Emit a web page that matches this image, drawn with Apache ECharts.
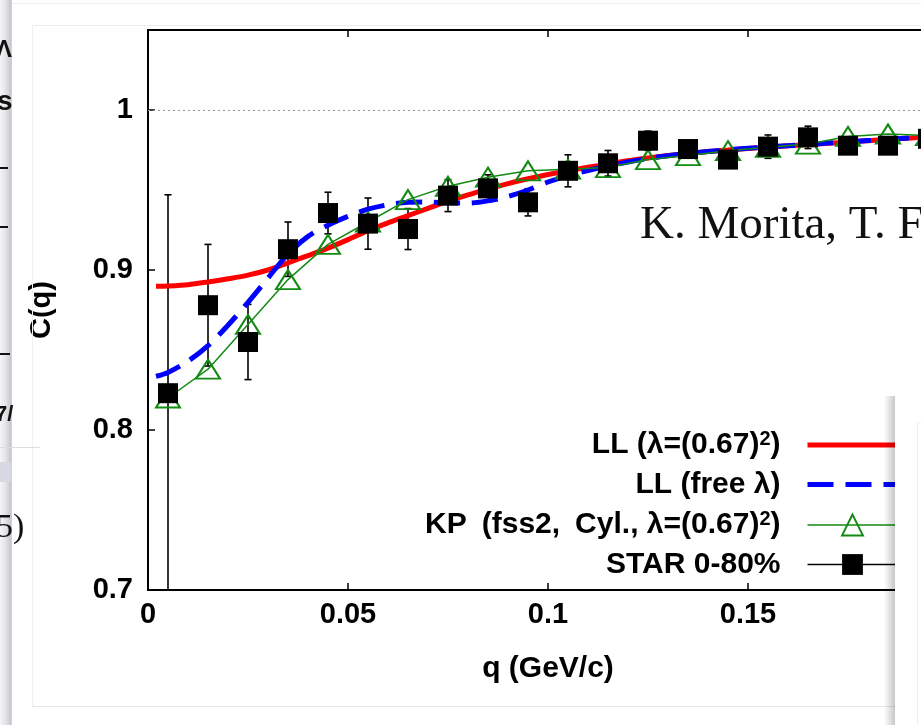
<!DOCTYPE html>
<html><head><meta charset="utf-8">
<script src="https://cdn.jsdelivr.net/npm/echarts@6/dist/echarts.min.js"></script>
<style>html,body{margin:0;padding:0;background:#fff}#c{width:921px;height:725px}</style>
</head><body><div id="c"></div>
<script>
// ---- data ----
const qBins = [0.005,0.015,0.025,0.035,0.045,0.055,0.065,0.075,0.085,0.095,0.105,0.115,0.125,0.135,0.145,0.155,0.165,0.175,0.185,0.195];
const starC = [0.823,0.878,0.855,0.913,0.9356,0.929,0.9256,0.9465,0.951,0.9423,0.962,0.9667,0.9808,0.9756,0.969,0.9771,0.9829,0.9777,0.9777,0.982];
const starErr = [0.124,0.038,0.0235,0.017,0.013,0.016,0.0128,0.010,0.0085,0.0085,0.010,0.008,0.006,0.005,0.005,0.0073,0.007,0.004,0.004,0.004];
const kpC = [0.820,0.838,0.866,0.894,0.916,0.930,0.944,0.9523,0.958,0.962,0.963,0.964,0.969,0.9715,0.9746,0.9767,0.9787,0.9835,0.985,0.984];
const qCurve = [0.002,0.005,0.010,0.015,0.020,0.025,0.030,0.035,0.040,0.045,0.050,0.055,0.060,0.065,0.070,0.075,0.080,0.085,0.090,0.095,0.100,0.105,0.110,0.115,0.120,0.125,0.130,0.135,0.140,0.145,0.150,0.155,0.160,0.165,0.170,0.175,0.180,0.185,0.190,0.195,0.200];
const llC = [0.8898,0.8900,0.8908,0.8925,0.8945,0.8968,0.9000,0.9045,0.9090,0.9137,0.9190,0.9246,0.9295,0.9340,0.9385,0.9430,0.9470,0.9506,0.9540,0.9570,0.9597,0.9620,0.9642,0.9662,0.9683,0.9700,0.9715,0.9728,0.9740,0.9750,0.9760,0.9768,0.9776,0.9784,0.9792,0.9800,0.9808,0.9816,0.9824,0.9831,0.9838];
const llFreeC = [0.8336,0.8360,0.8430,0.8527,0.8655,0.8798,0.8950,0.9100,0.9210,0.9280,0.9335,0.9380,0.9408,0.9423,0.9425,0.9420,0.9418,0.9432,0.9460,0.9500,0.9550,0.9590,0.9622,0.9650,0.9675,0.9697,0.9714,0.9728,0.9740,0.9751,0.9761,0.9769,0.9777,0.9785,0.9793,0.9801,0.9809,0.9817,0.9825,0.9832,0.9839];
const xTicks = {min:0, max:0.2, interval:0.05};
const yTicks = {min:0.7, max:1.05, interval:0.1};
const N_LL = 'LL (λ=(0.67)²)';
const N_FREE = 'LL (free λ)';
const N_KP = 'KP (fss2, Cyl., λ=(0.67)²)';
const N_STAR = 'STAR 0-80%';
const legendRich = {};
legendRich[N_LL] = '{t|LL (λ=(0.67)}{s|2}{t|)}{g| }';
legendRich[N_FREE] = '{t|LL (free λ)}{g| }';
legendRich[N_KP] = '{t|KP}{w| }{t|(fss2,}{w| }{t|Cyl., λ=(0.67)}{s|2}{t|)}{g| }';
legendRich[N_STAR] = '{t|STAR 0-80%}{g| }';

const zip = (a,b) => a.map((v,i)=>[v,b[i]]);
const errData = qBins.map((q,i)=>[q, starC[i]-starErr[i], starC[i]+starErr[i]]);

const GREEN = '#138a13';
const FONT = '"Liberation Sans", Arial, sans-serif';
const SERIF = '"Liberation Serif", "Times New Roman", serif';
const lblStyle = {fontFamily:FONT, fontWeight:'bold', fontSize:29, color:'#000'};

const chart = echarts.init(document.getElementById('c'), null, {renderer:'canvas'});
const option = {
  animation:false,
  backgroundColor:'#fff',
  grid:{left:148, top:30, right:-27, bottom:135, show:true, borderColor:'#000', borderWidth:2,
        containLabel:false, outerBoundsMode:'none'},
  xAxis:[{
    type:'value', min:xTicks.min, max:xTicks.max, interval:xTicks.interval, position:'bottom',
    name:'q (GeV/c)', nameLocation:'middle', nameGap:64,
    nameTextStyle:Object.assign({}, lblStyle, {fontSize:30}),
    axisLine:{show:true, lineStyle:{color:'#000', width:2}},
    axisTick:{show:true, inside:true, length:7, lineStyle:{color:'#000', width:1.5}},
    axisLabel:Object.assign({margin:10, formatter:v=>String(+v.toFixed(3))}, lblStyle),
    splitLine:{show:false}
  },{
    type:'value', min:xTicks.min, max:xTicks.max, interval:xTicks.interval, position:'top',
    axisLine:{show:false},
    axisTick:{show:true, inside:true, length:7, lineStyle:{color:'#000', width:1.5}},
    axisLabel:{show:false}, splitLine:{show:false}
  }],
  yAxis:{
    type:'value', min:yTicks.min, max:yTicks.max, interval:yTicks.interval,
    name:'C(q)', nameLocation:'middle', nameRotate:90, nameGap:92,
    nameTextStyle:Object.assign({}, lblStyle),
    axisLine:{show:true, lineStyle:{color:'#000', width:2}},
    axisTick:{show:true, inside:true, length:7, lineStyle:{color:'#000', width:1.5}},
    axisLabel:Object.assign({margin:15, formatter:v=> v>1.001 ? '' : String(+v.toFixed(2))}, lblStyle),
    splitLine:{show:false}
  },
  legend:{
    orient:'vertical', align:'right', right:16, top:424,
    itemWidth:90, itemHeight:26, itemGap:9.5, selectedMode:false,
    formatter:name=>legendRich[name],
    textStyle:{fontFamily:FONT, fontWeight:'bold', fontSize:30, color:'#000',
      rich:{
        t:{fontFamily:FONT, fontWeight:'bold', fontSize:30, color:'#000', lineHeight:32},
        s:{fontFamily:FONT, fontWeight:'bold', fontSize:20, color:'#000', lineHeight:18, verticalAlign:'top'},
        w:{width:15, fontSize:10},
        g:{width:22, fontSize:10}
      }},
    data:[
      {name:N_LL, itemStyle:{opacity:0}, lineStyle:{color:'#ff0000', width:5, opacity:1}},
      {name:N_FREE, itemStyle:{opacity:0}, lineStyle:{color:'#0000ff', width:5, type:[26,12], opacity:1}},
      {name:N_KP, itemStyle:{color:'rgba(255,255,255,0)', borderColor:GREEN, borderWidth:2, opacity:1}, lineStyle:{color:GREEN, width:1.5, opacity:1}},
      {name:N_STAR, itemStyle:{color:'#000', borderWidth:0, opacity:1}, lineStyle:{color:'#000', width:1.5, opacity:1}}
    ]
  },
  series:[
    {name:N_LL, type:'line', data:zip(qCurve, llC), symbol:'none', smooth:0.3,
     lineStyle:{color:'#ff0000', width:5}, itemStyle:{color:'#ff0000'}, emphasis:{disabled:true},
     markLine:{silent:true, symbol:['none','none'], label:{show:false},
       lineStyle:{color:'#999', type:[2,3], width:1}, data:[{yAxis:1}]}},
    {name:N_FREE, type:'line', data:zip(qCurve, llFreeC), symbol:'none', smooth:0.3,
     lineStyle:{color:'#0000ff', width:5, type:[26,12]}, itemStyle:{color:'#0000ff'}, emphasis:{disabled:true}},
    {name:N_KP, type:'line', data:zip(qBins, kpC), symbol:'triangle', symbolSize:[24,19],
     lineStyle:{color:GREEN, width:1.5}, itemStyle:{color:'rgba(255,255,255,0)', borderColor:GREEN, borderWidth:2},
     emphasis:{disabled:true}},
    {name:'err', type:'custom', data:errData, encode:{x:0, y:[1,2]}, silent:true,
     renderItem:function(params, api){
       const x = api.value(0), lo = api.value(1), hi = api.value(2);
       const pHi = api.coord([x, hi]), pLo = api.coord([x, lo]);
       const cs = params.coordSys;
       const top = cs.y, bottom = cs.y + cs.height;
       const st = {stroke:'#000', lineWidth:1.6};
       const ch = [{type:'line', shape:{x1:pHi[0], y1:Math.max(pHi[1],top), x2:pHi[0], y2:Math.min(pLo[1],bottom)}, style:st}];
       const cap = 3.5;
       if (pHi[1] >= top) ch.push({type:'line', shape:{x1:pHi[0]-cap, y1:pHi[1], x2:pHi[0]+cap, y2:pHi[1]}, style:st});
       if (pLo[1] <= bottom) ch.push({type:'line', shape:{x1:pLo[0]-cap, y1:pLo[1], x2:pLo[0]+cap, y2:pLo[1]}, style:st});
       return {type:'group', children:ch};
     }},
    {name:N_STAR, type:'line', data:zip(qBins, starC), symbol:'rect', symbolSize:20,
     lineStyle:{color:'#000', width:1.5, opacity:0}, itemStyle:{color:'#000'}, emphasis:{disabled:true}}
  ],
  graphic:[
    // overlapping-window decorations of the screenshot
    {type:'line', z:100, shape:{x1:12, y1:3.5, x2:921, y2:3.5}, style:{stroke:'#eeeeee', lineWidth:1}},
    {type:'line', z:100, shape:{x1:32, y1:25.5, x2:921, y2:25.5}, style:{stroke:'#ececec', lineWidth:1}},
    {type:'line', z:100, shape:{x1:32.5, y1:25, x2:32.5, y2:706}, style:{stroke:'#f0f0f0', lineWidth:1}},
    {type:'line', z:100, shape:{x1:32, y1:706.5, x2:921, y2:706.5}, style:{stroke:'#e6e6e6', lineWidth:1}},
    {type:'rect', z:100, shape:{x:0, y:0, width:12, height:725},
     style:{fill:new echarts.graphic.LinearGradient(0,0,1,0,[{offset:0,color:'#f6f6f8'},{offset:0.5,color:'#e2e2e6'},{offset:0.9,color:'#c6c6cc'},{offset:1,color:'#d8d8dc'}])}},
    {type:'text', z:101, x:-4, y:50, style:{text:'Λ', font:'bold 24px '+FONT, fill:'#111', verticalAlign:'middle'}},
    {type:'text', z:101, x:-3, y:102, style:{text:'s', font:'bold 28px '+FONT, fill:'#111', verticalAlign:'middle'}},
    {type:'line', z:101, shape:{x1:0, y1:168, x2:8, y2:168}, style:{stroke:'#111', lineWidth:2}},
    {type:'line', z:101, shape:{x1:0, y1:227, x2:8, y2:227}, style:{stroke:'#111', lineWidth:2}},
    {type:'line', z:101, shape:{x1:0, y1:354, x2:10, y2:354}, style:{stroke:'#111', lineWidth:2}},
    {type:'text', z:101, x:-5, y:415, style:{text:'7/', font:'bold 22px '+FONT, fill:'#111', verticalAlign:'middle'}},
    {type:'line', z:101, shape:{x1:0, y1:447.5, x2:40, y2:447.5}, style:{stroke:'#dddddd', lineWidth:1}},
    {type:'rect', z:101, shape:{x:0, y:462, width:11, height:20}, style:{fill:'#d6d9e2'}},
    {type:'text', z:101, x:-4, y:528, style:{text:'5)', font:'34px '+SERIF, fill:'#111', verticalAlign:'middle'}},
    // right overlapping window
    {type:'rect', z:100, shape:{x:884, y:396, width:11, height:329},
     style:{fill:new echarts.graphic.LinearGradient(0,0,1,0,[{offset:0,color:'rgba(0,0,0,0)'},{offset:1,color:'rgba(0,0,0,0.22)'}])}},
    {type:'rect', z:101, shape:{x:895, y:400, width:26, height:325}, style:{fill:'#fff'}},
    {type:'line', z:102, shape:{x1:917.5, y1:422, x2:917.5, y2:725}, style:{stroke:'#eeeeee', lineWidth:1}},
    {type:'line', z:102, shape:{x1:917, y1:422.5, x2:921, y2:422.5}, style:{stroke:'#eeeeee', lineWidth:1}},
    // overlaid text
    {type:'text', z:50, x:640, y:226, style:{text:'K. Morita, T. F', font:'47px '+SERIF, fill:'#111', verticalAlign:'middle'}}
  ]
};
chart.setOption(option);
</script></body></html>
